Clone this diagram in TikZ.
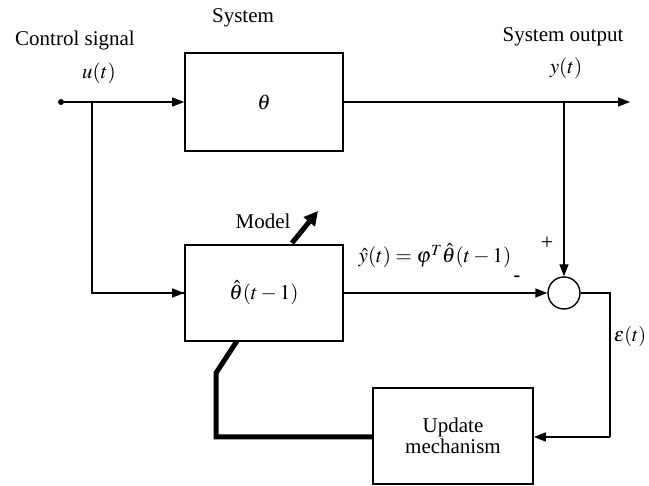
\documentclass[tikz,border=0pt]{standalone}
\usepackage{mathptmx}
\usepackage{fontspec}
\setmainfont{Liberation Serif}
\usetikzlibrary{arrows.meta}
\begin{document}
\begin{tikzpicture}[x=1pt,y=-1pt,
  blk/.style={draw,line width=1.6pt,rectangle,inner sep=0pt,font=\fontsize{21}{24}\selectfont,align=center},
  sig/.style={line width=1.4pt,-{Triangle[length=12pt,width=9pt]}},
  wire/.style={line width=1.4pt},
  fat/.style={line width=5pt},
  lbl/.style={font=\fontsize{21}{24}\selectfont,inner sep=0pt}]
\useasboundingbox (0,0) rectangle (649,486);
% blocks
\node[blk,minimum width=158pt,minimum height=98pt] (sys) at (264,102) {$\theta$};
\node[blk,minimum width=158pt,minimum height=96pt] (model) at (264,293) {$\hat{\theta}(t-1)$};
\node[blk,minimum width=160pt,minimum height=96pt] (upd) at (453,436) {Update\\[-3pt]mechanism};
\node[draw,circle,line width=1.4pt,minimum size=32pt,inner sep=0pt] (sum) at (564,293) {};
% coordinates
\node[circle,fill,inner sep=0pt,minimum size=6pt] (in) at (61,102) {};
\coordinate (br) at (92,102);
\coordinate (tap) at (564,102);
\coordinate (out) at (630,102);
\coordinate (er) at (610,293);
\coordinate (eb) at (610,437);
\coordinate (ub) at (216,437);
\coordinate (uk) at (216,373);
\coordinate (mb) at (237,341);
\coordinate (ms) at (292,243);
\coordinate (mt) at (318,211);
% connectors
\draw[sig] (in) -- (sys.west);
\draw[wire] (br) |- (model.west);
\draw[sig] (br |- model.west) -- (model.west);
\draw[sig] (sys.east) -- (out);
\draw[sig] (tap) -- (sum.north);
\draw[sig] (model.east) -- (sum.west);
\draw[wire] (sum.east) -- (er) -- (eb);
\draw[sig] (eb) -- (upd.east |- eb);
\draw[fat,line join=miter] (mb) -- (uk) -- (ub) -- (upd.west |- ub);
\draw[fat,-{Triangle[length=14pt,width=14pt]}] (ms) -- (mt);
% labels
\node[lbl] (t1) at (243,18) {System};
\node[lbl] (t2) at (75,40) {Control signal};
\node[lbl] (t3) at (99,73) {$u(t)$};
\node[lbl] (t4) at (563,37) {System output};
\node[lbl] (t5) at (566,68) {$y(t)$};
\node[lbl] (t6) at (263,221) {Model};
\node[lbl] (t7) at (435,256) {$\hat{y}(t)=\varphi^{T}\hat{\theta}(t-1)$};
\node[lbl,font=\fontsize{22}{22}\selectfont] (t8) at (547,243) {+};
\node[lbl,font=\fontsize{20}{20}\bfseries] (t9) at (517,279) {-};
\node[lbl,font=\fontsize{20}{24}\selectfont] (t10) at (630,337) {$\varepsilon(t)$};
\end{tikzpicture}
\end{document}
